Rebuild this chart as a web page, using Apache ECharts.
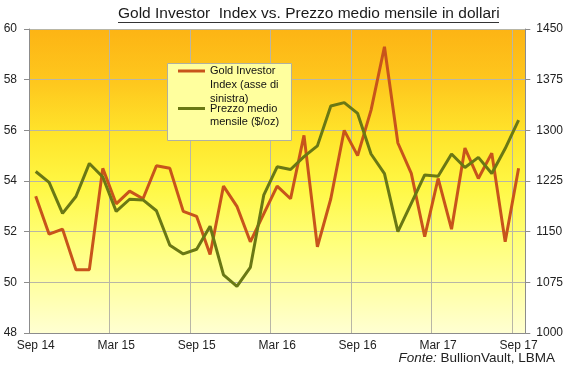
<!DOCTYPE html>
<html>
<head>
<meta charset="utf-8">
<script src="https://cdn.jsdelivr.net/npm/echarts@6/dist/echarts.min.js"></script>
<style>html,body{margin:0;padding:0;background:#fff;}#c{width:566px;height:380px;}</style>
</head>
<body>
<div id="c"></div>
<script>
const months = ['Sep 14','Oct 14','Nov 14','Dec 14','Jan 15','Feb 15','Mar 15','Apr 15','May 15','Jun 15','Jul 15','Aug 15',
  'Sep 15','Oct 15','Nov 15','Dec 15','Jan 16','Feb 16','Mar 16','Apr 16','May 16','Jun 16','Jul 16','Aug 16',
  'Sep 16','Oct 16','Nov 16','Dec 16','Jan 17','Feb 17','Mar 17','Apr 17','May 17','Jun 17','Jul 17','Aug 17','Sep 17'];
const goldInvestorIndex = [53.4,51.9,52.1,50.5,50.5,54.5,53.1,53.6,53.3,54.6,54.5,52.8,
  52.6,51.1,53.8,53.0,51.6,52.7,53.8,53.3,55.8,51.4,53.3,56.0,
  55.0,56.8,59.3,55.5,54.3,51.8,54.1,52.1,55.3,54.1,55.1,51.6,54.5];
const avgPrice = [1239,1223,1177,1202,1251,1231,1180,1198,1197,1181,1130,1117,
  1124,1158,1086,1069,1097,1204,1246,1242,1261,1277,1336,1341,
  1325,1265,1236,1150,1192,1234,1232,1265,1245,1260,1236,1273,1315];
const leftTicks = [48, 60, 2];
const rightTicks = [1000, 1450, 75];
const seriesNames = ['Gold Investor Index (asse di sinistra)', 'Prezzo medio mensile ($/oz)'];
const legendLabels = ['\n\nGold Investor\nIndex (asse di\nsinistra)', '\nPrezzo medio\nmensile ($/oz)'];
const titleText = 'Gold Investor  Index vs. Prezzo medio mensile in dollari';

const FONT = "'Liberation Sans', Arial, sans-serif";
const chart = echarts.init(document.getElementById('c'), null, {renderer: 'canvas'});
const LH = 13.8;
chart.setOption({
  animation: false,
  backgroundColor: '#ffffff',
  grid: {
    left: 29, right: 38, top: 29, bottom: 47,
    show: true, borderWidth: 0,
    backgroundColor: new echarts.graphic.LinearGradient(0, 0, 0, 1, [
      {offset: 0, color: '#FDB414'},
      {offset: 0.18, color: '#FEC81E'},
      {offset: 0.35, color: '#FFE52B'},
      {offset: 0.52, color: '#FFF845'},
      {offset: 0.7, color: '#FFFF7A'},
      {offset: 0.86, color: '#FFFFA8'},
      {offset: 1, color: '#FFFFD2'}
    ])
  },
  xAxis: {
    type: 'category', data: months, boundaryGap: true,
    axisLine: {lineStyle: {color: '#8c8c8c'}},
    axisTick: {interval: 5, length: 5, lineStyle: {color: '#8c8c8c'}},
    splitLine: {show: true, interval: 5, lineStyle: {color: '#b8b6a6', width: 1}},
    axisLabel: {interval: 5, margin: 7, color: '#222', fontFamily: FONT, fontSize: 12}
  },
  yAxis: [{
    type: 'value', min: leftTicks[0], max: leftTicks[1], interval: leftTicks[2], position: 'left',
    axisLine: {show: true, lineStyle: {color: '#8c8c8c'}},
    axisTick: {show: true, length: 5, lineStyle: {color: '#8c8c8c'}},
    splitLine: {show: true, lineStyle: {color: '#b8b6a6', width: 1}},
    axisLabel: {margin: 12, color: '#222', fontFamily: FONT, fontSize: 12}
  }, {
    type: 'value', min: rightTicks[0], max: rightTicks[1], interval: rightTicks[2], position: 'right',
    axisLine: {show: true, lineStyle: {color: '#8c8c8c'}},
    axisTick: {show: true, length: 5, lineStyle: {color: '#8c8c8c'}},
    splitLine: {show: false},
    axisLabel: {margin: 11, color: '#222', fontFamily: FONT, fontSize: 12, formatter: v => String(v)}
  }],
  legend: [{
    data: [seriesNames[0]], orient: 'vertical', left: 178, top: 71 - LH * 2.5,
    padding: 0, itemWidth: 27, itemHeight: 3, icon: 'rect', z: 10,
    formatter: () => legendLabels[0],
    textStyle: {fontFamily: FONT, fontSize: 11, color: '#111', lineHeight: LH}
  }, {
    data: [seriesNames[1]], orient: 'vertical', left: 178, top: 108.5 - LH * 1.5,
    padding: 0, itemWidth: 27, itemHeight: 3, icon: 'rect', z: 10,
    formatter: () => legendLabels[1],
    textStyle: {fontFamily: FONT, fontSize: 11, color: '#111', lineHeight: LH}
  }],
  graphic: [
    {type: 'text', left: 118, top: 6, z: 10, style: {text: titleText, fill: '#1a1a1a', font: "15.5px 'Liberation Sans', Arial, sans-serif"}},
    {type: 'line', z: 10, shape: {x1: 118, y1: 22.5, x2: 499, y2: 22.5}, style: {stroke: '#333', lineWidth: 1.2}},
    {type: 'rect', z: 5, shape: {x: 167.5, y: 63.5, width: 124, height: 77}, style: {fill: '#FFFF9E', stroke: '#b0b0a0', lineWidth: 1}},
    {type: 'text', right: 11, top: 351, z: 10, style: {
      text: '{i|Fonte:} BullionVault, LBMA',
      rich: {i: {fontStyle: 'italic', fontFamily: FONT, fontSize: 13.5, fill: '#222'}},
      fontFamily: FONT, fontSize: 13.5, fill: '#222'
    }}
  ],
  series: [{
    name: seriesNames[0], type: 'line', yAxisIndex: 0, data: goldInvestorIndex,
    symbol: 'none', lineStyle: {color: '#C8541B', width: 3}, itemStyle: {color: '#C8541B'}, z: 3
  }, {
    name: seriesNames[1], type: 'line', yAxisIndex: 1, data: avgPrice,
    symbol: 'none', lineStyle: {color: '#6A7814', width: 3}, itemStyle: {color: '#6A7814'}, z: 3
  }]
});
</script>
</body>
</html>
